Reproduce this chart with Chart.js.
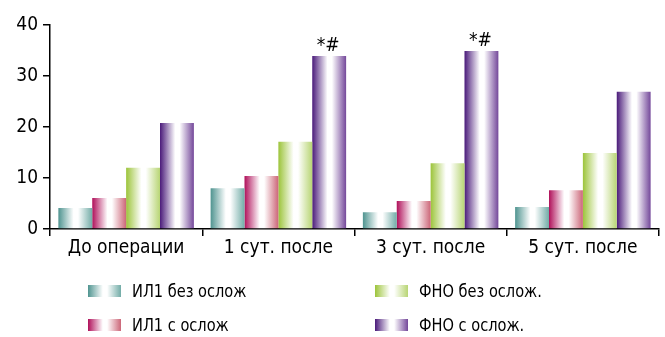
<!DOCTYPE html>
<html>
<head>
<meta charset="utf-8">
<script src="https://cdn.jsdelivr.net/npm/chart.js@4/dist/chart.umd.min.js"></script>
<style>
  html, body { margin: 0; padding: 0; background: #fff; }
  #wrap { width: 665px; height: 337px; position: relative; }
</style>
</head>
<body>
<div id="wrap"><canvas id="c" width="665" height="337"></canvas></div>
<script>
const categories = ['До операции', '1 сут. после', '3 сут. после', '5 сут. после'];
const seriesLabels = ['ИЛ1 без ослож', 'ИЛ1 с ослож', 'ФНО без ослож.', 'ФНО с ослож.'];
const il1NoCompl = [4.1, 8.0, 3.3, 4.3];
const il1Compl = [6.1, 10.4, 5.5, 7.6];
const tnfNoCompl = [12.0, 17.1, 12.9, 14.9];
const tnfCompl = [20.8, 33.9, 34.9, 26.9];
const tnfComplMarks = ['', '*#', '*#', ''];
const yTicks = [0, 10, 20, 30, 40];
const seriesColors = ['#4f9490', '#b0105a', '#9cc43a', '#4a1a7a'];
const seriesRightColors = ['#72aca7', '#cc6678', '#b8d574', '#74489a'];

const FONT = "'Liberation Sans Narrow', 'DejaVu Sans Condensed', 'Roboto Condensed', sans-serif";

function makeGrad(ctx, x0, x1, c0, c1) {
  const g = ctx.createLinearGradient(x0, 0, x1, 0);
  g.addColorStop(0, c0);
  g.addColorStop(0.45, '#ffffff');
  g.addColorStop(0.58, '#ffffff');
  g.addColorStop(1, c1);
  return g;
}

const gradientBars = {
  id: 'gradientBars',
  beforeDatasetsDraw(chart) {
    const ctx = chart.ctx;
    chart.data.datasets.forEach((ds, di) => {
      const meta = chart.getDatasetMeta(di);
      meta.data.forEach(el => {
        const x0 = el.x - el.width / 2, x1 = el.x + el.width / 2;
        el.options = Object.assign({}, el.options, {
          backgroundColor: makeGrad(ctx, x0, x1, seriesColors[di], seriesRightColors[di])
        });
      });
    });
  },
  afterDatasetsDraw(chart) {
    const ctx = chart.ctx;
    const meta = chart.getDatasetMeta(3);
    ctx.save();
    ctx.font = '19px ' + FONT;
    ctx.fillStyle = '#000';
    ctx.textAlign = 'center';
    ctx.textBaseline = 'alphabetic';
    meta.data.forEach((el, i) => {
      if (tnfComplMarks[i]) ctx.fillText(tnfComplMarks[i], el.x - 1, el.y - 5);
    });
    ctx.restore();
  },
  afterDraw(chart) {
    const ctx = chart.ctx;
    const cols = [88, 375];
    const rows = [291, 325];
    const order = [[0, 0, 0], [1, 0, 1], [2, 1, 0], [3, 1, 1]];
    ctx.save();
    order.forEach(([di, c, r]) => {
      const x = cols[c], y = rows[r];
      ctx.fillStyle = makeGrad(ctx, x, x + 33, seriesColors[di], seriesRightColors[di]);
      ctx.fillRect(x, y - 6, 33, 12);
      ctx.save();
      ctx.translate(x + 44, y + 1);
      ctx.scale(0.9, 1);
      ctx.font = '18px ' + FONT;
      ctx.fillStyle = '#000';
      ctx.textBaseline = 'middle';
      ctx.fillText(chart.data.datasets[di].label, 0, 0);
      ctx.restore();
    });
    ctx.restore();
  }
};

const mk = (label, data, i) => ({
  label, data,
  backgroundColor: seriesColors[i],
  borderWidth: 0,
  barPercentage: 1.0,
  categoryPercentage: 0.89
});

new Chart(document.getElementById('c'), {
  type: 'bar',
  data: {
    labels: categories,
    datasets: [
      mk(seriesLabels[0], il1NoCompl, 0),
      mk(seriesLabels[1], il1Compl, 1),
      mk(seriesLabels[2], tnfNoCompl, 2),
      mk(seriesLabels[3], tnfCompl, 3)
    ]
  },
  options: {
    responsive: false,
    animation: false,
    events: [],
    layout: { padding: { top: 25, right: 6, left: 0, bottom: 73 } },
    plugins: { legend: { display: false }, tooltip: { enabled: false } },
    scales: {
      x: {
        grid: { drawOnChartArea: false, offset: true, tickLength: 7, color: '#000', lineWidth: 1.5 },
        border: { display: true, color: '#000', width: 1.5 },
        ticks: { color: '#000', font: { family: FONT, size: 19 }, padding: 1 },
        afterFit(s) { s.height = 35; }
      },
      y: {
        min: 0, max: 40,
        afterBuildTicks(s) { s.ticks = yTicks.map(v => ({ value: v })); },
        grid: { drawOnChartArea: false, tickLength: 7, color: '#000', lineWidth: 1.5 },
        border: { display: true, color: '#000', width: 1.5 },
        ticks: { color: '#000', font: { family: FONT, size: 19 }, padding: 5 },
        afterFit(s) { s.width = 50; }
      }
    }
  },
  plugins: [gradientBars]
});
</script>
</body>
</html>
